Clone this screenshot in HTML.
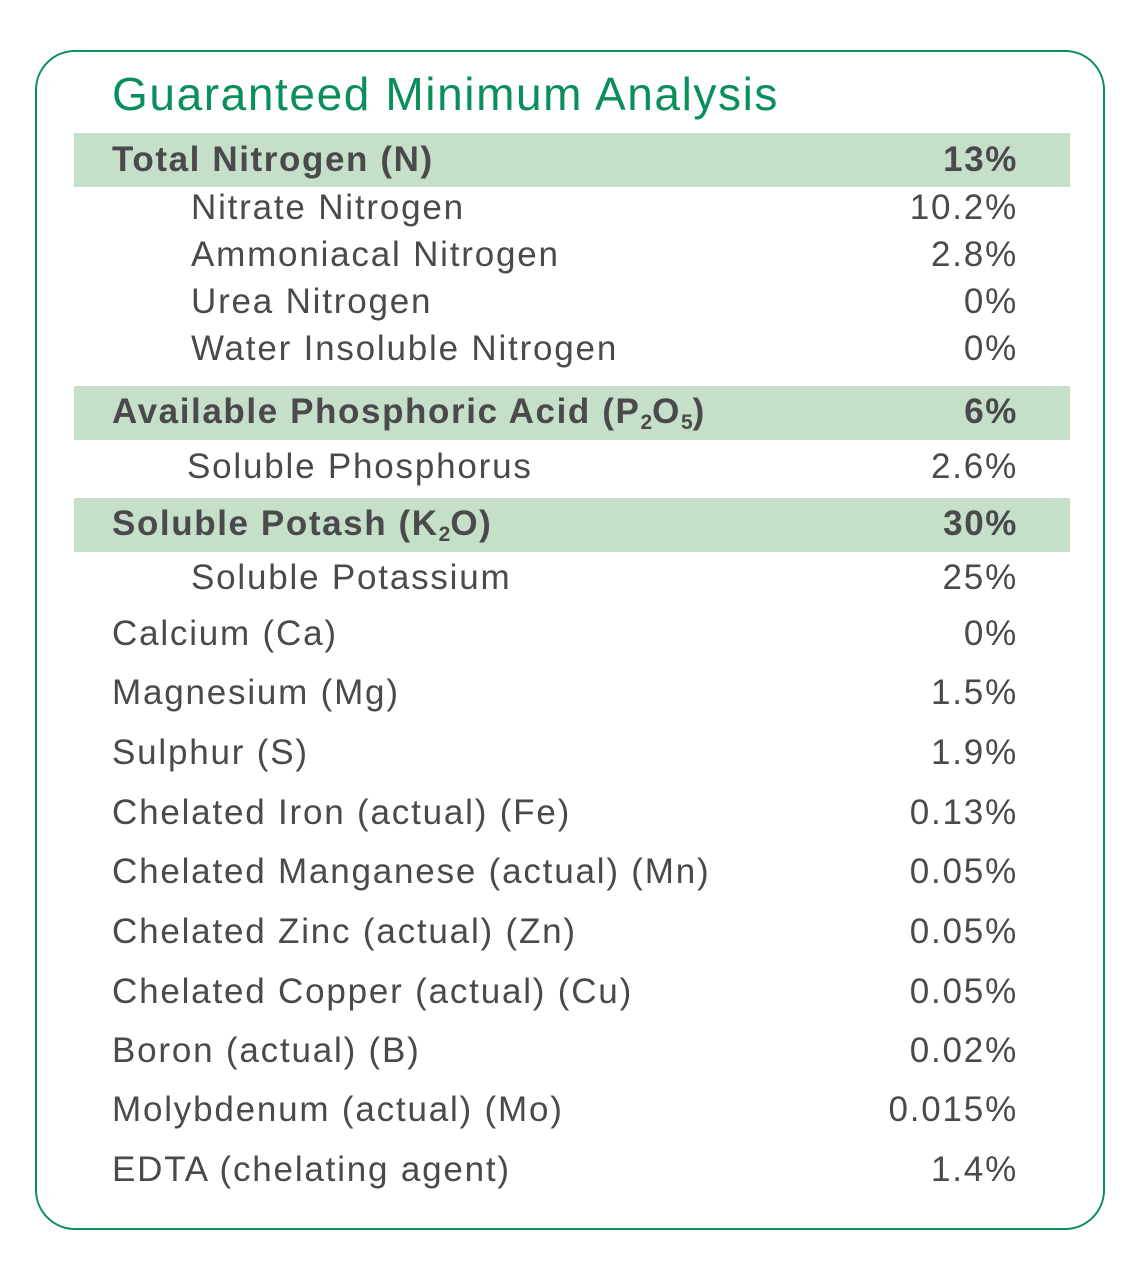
<!DOCTYPE html>
<html><head><meta charset="utf-8"><style>
body{margin:0;width:1144px;height:1269px;background:#fff;position:relative;font-family:"Liberation Sans",sans-serif;color:#4a4a4c;overflow:hidden}
.frame{position:absolute;left:35px;top:50px;width:1070px;height:1180px;border:2.5px solid #0a8f56;border-radius:40px;box-sizing:border-box}
.title{position:absolute;left:112px;top:68px;font-size:46px;color:#0a8f5a;line-height:52px;letter-spacing:1.6px}
.band{position:absolute;left:74px;width:996px;height:54px;background:#c5dfc9}
.row{position:absolute;left:0;width:1144px;height:40px;line-height:40px;font-size:35px;letter-spacing:1.8px}
.row .l{position:absolute;left:112px;white-space:nowrap}
.row .l.i{left:191px}
.row .v{position:absolute;right:126px}
.b{font-weight:bold;letter-spacing:1.6px}
sub{font-size:21px;vertical-align:-6px;line-height:0;letter-spacing:0}
</style></head><body>
<div class="frame"></div>
<div class="title">Guaranteed Minimum Analysis</div>
<div class="band" style="top:133px"></div>
<div class="band" style="top:386px"></div>
<div class="band" style="top:498px"></div>

<div class="row b" style="top:140px"><span class="l">Total Nitrogen (N)</span><span class="v">13%</span></div>
<div class="row" style="top:188px"><span class="l i">Nitrate Nitrogen</span><span class="v">10.2%</span></div>
<div class="row" style="top:235px"><span class="l i">Ammoniacal Nitrogen</span><span class="v">2.8%</span></div>
<div class="row" style="top:282px"><span class="l i">Urea Nitrogen</span><span class="v">0%</span></div>
<div class="row" style="top:329px"><span class="l i">Water Insoluble Nitrogen</span><span class="v">0%</span></div>
<div class="row b" style="top:392px"><span class="l">Available Phosphoric Acid (P<sub>2</sub>O<sub>5</sub>)</span><span class="v">6%</span></div>
<div class="row" style="top:447px"><span class="l i" style="left:187px">Soluble Phosphorus</span><span class="v">2.6%</span></div>
<div class="row b" style="top:504px"><span class="l">Soluble Potash (K<sub>2</sub>O)</span><span class="v">30%</span></div>
<div class="row" style="top:558px"><span class="l i">Soluble Potassium</span><span class="v">25%</span></div>
<div class="row" style="top:614px"><span class="l">Calcium (Ca)</span><span class="v">0%</span></div>
<div class="row" style="top:673px"><span class="l">Magnesium (Mg)</span><span class="v">1.5%</span></div>
<div class="row" style="top:733px"><span class="l">Sulphur (S)</span><span class="v">1.9%</span></div>
<div class="row" style="top:793px"><span class="l">Chelated Iron (actual) (Fe)</span><span class="v">0.13%</span></div>
<div class="row" style="top:852px"><span class="l">Chelated Manganese (actual) (Mn)</span><span class="v">0.05%</span></div>
<div class="row" style="top:912px"><span class="l">Chelated Zinc (actual) (Zn)</span><span class="v">0.05%</span></div>
<div class="row" style="top:972px"><span class="l">Chelated Copper (actual) (Cu)</span><span class="v">0.05%</span></div>
<div class="row" style="top:1031px"><span class="l">Boron (actual) (B)</span><span class="v">0.02%</span></div>
<div class="row" style="top:1090px"><span class="l">Molybdenum (actual) (Mo)</span><span class="v">0.015%</span></div>
<div class="row" style="top:1150px"><span class="l">EDTA (chelating agent)</span><span class="v">1.4%</span></div>
</body></html>
